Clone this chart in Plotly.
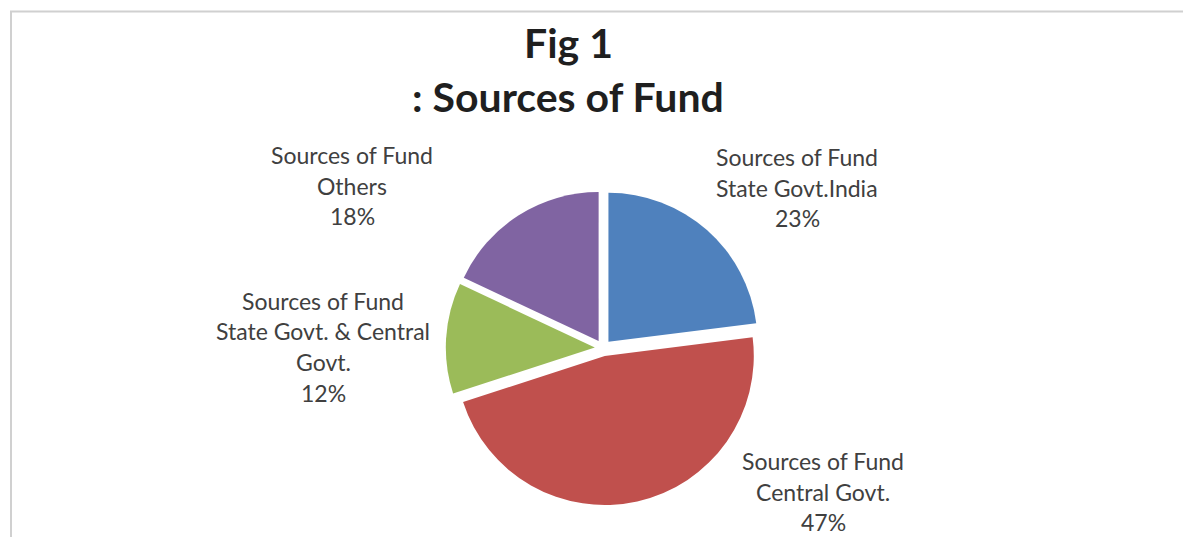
import plotly.graph_objects as go

# Data
series_name = "Sources of Fund"
categories = ["State Govt.India", "Central Govt.", "State Govt. & Central\nGovt.", "Others"]
shares = [23, 47, 12, 18]
colors = ["#4F81BD", "#C0504D", "#9BBB59", "#8064A2"]

W, H = 1183, 537

def px(x):
    return x / W

def py(y):
    return (H - y) / H

# Label anchors (center x, first-line y) in pixels, and line spacing
label_pos = [(797, 157), (823, 461), (323, 301), (352, 155)]
line_gap = 30.5

fig = go.Figure(
    go.Pie(
        labels=[c.replace("\n", " ") for c in categories],
        values=shares,
        sort=False,
        direction="clockwise",
        rotation=0,
        pull=[0.055] * len(shares),
        marker=dict(colors=colors, line=dict(width=0)),
        textinfo="none",
        hoverinfo="label+percent",
        showlegend=False,
        domain=dict(x=[px(603 - 157.2), px(603 + 157.2)],
                    y=[py(348 + 157.2), py(348 - 157.2)]),
    )
)

annotations = []
label_font = dict(family="Lato, 'Open Sans', sans-serif", size=23, color="#404040")
for cat, val, (cx, cy) in zip(categories, shares, label_pos):
    lines = [series_name] + cat.split("\n") + [f"{val}%"]
    for i, line in enumerate(lines):
        annotations.append(dict(
            x=px(cx), y=py(cy + i * line_gap), xref="paper", yref="paper",
            text=line, showarrow=False, xanchor="center", yanchor="middle",
            font=label_font,
        ))

title_font = dict(family="Lato, 'Open Sans', sans-serif", size=41, color="#1f1f1f")
annotations.append(dict(x=px(568), y=py(43), xref="paper", yref="paper",
                        text="<b>Fig 1</b>", showarrow=False,
                        xanchor="center", yanchor="middle", font=title_font))
annotations.append(dict(x=px(568), y=py(96), xref="paper", yref="paper",
                        text="<b>: " + series_name + "</b>", showarrow=False,
                        xanchor="center", yanchor="middle", font=title_font))

# Chart-area frame
shapes = [dict(type="rect", xref="paper", yref="paper",
               x0=px(11), x1=px(W + 20), y0=py(H + 20), y1=py(11.5),
               line=dict(color="#d0d0d0", width=2), fillcolor="rgba(0,0,0,0)")]

fig.update_layout(
    width=W, height=H,
    margin=dict(l=0, r=0, t=0, b=0),
    paper_bgcolor="white",
    plot_bgcolor="white",
    annotations=annotations,
    shapes=shapes,
)

fig.write_html("out.html")
